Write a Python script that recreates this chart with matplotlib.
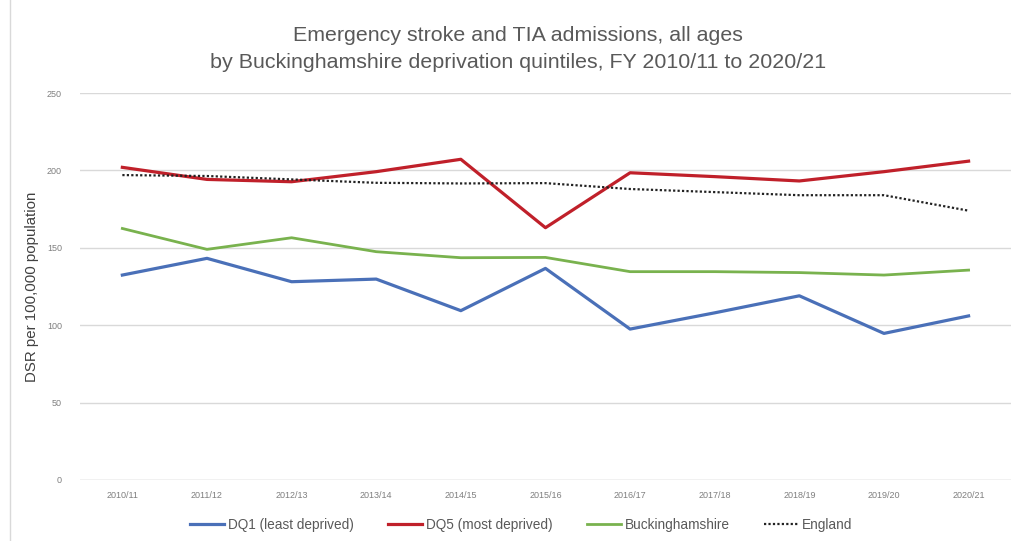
import matplotlib.pyplot as plt
from matplotlib.patches import Rectangle

years = ['2010/11', '2011/12', '2012/13', '2013/14', '2014/15', '2015/16',
         '2016/17', '2017/18', '2018/19', '2019/20', '2020/21']
dq1 = [132.4, 143.2, 128.1, 129.8, 109.4, 136.7, 97.5, 108.0, 119.0, 94.7, 106.0]
dq5 = [202.0, 194.2, 192.7, 199.2, 207.2, 163.0, 198.5, 196.0, 193.2, 199.2, 206.0]
bucks = [162.5, 149.0, 156.5, 147.5, 143.6, 143.8, 134.6, 134.6, 134.0, 132.4, 135.6]
england = [197.0, 196.4, 194.2, 192.0, 191.6, 191.8, 188.0, 186.0, 184.0, 184.0, 174.0]

plt.rcParams['font.family'] = ['Liberation Sans', 'DejaVu Sans']
grey = '#595959'

fig = plt.figure(figsize=(10.17, 5.41), dpi=100)
ax = fig.add_axes([0.0787, 0.1128, 0.9153, 0.7152])

x = range(len(years))
ax.plot(x, dq1, color='#4a70b8', lw=2.3, label='DQ1 (least deprived)')
ax.plot(x, dq5, color='#c0202a', lw=2.3, label='DQ5 (most deprived)')
ax.plot(x, bucks, color='#79b24e', lw=2.0, label='Buckinghamshire')
ax.plot(x, england, color='#222222', lw=1.6, ls=(0, (1, 1)), label='England')

ax.set_xlim(-0.5, len(years) - 0.5)
ax.set_ylim(0, 250)
ax.set_yticks(range(0, 251, 50))
ax.set_xticks(list(x))
ax.set_xticklabels(years)
ax.tick_params(axis='both', length=0, labelsize=6.5, colors='#7f7f7f')
ax.tick_params(axis='y', pad=13)
ax.tick_params(axis='x', pad=8)
ax.grid(axis='y', color='#d9d9d9', lw=1)
ax.set_axisbelow(True)
for s in ax.spines.values():
    s.set_visible(False)
ax.axhline(0, color='#d9d9d9', lw=1)

ax.set_ylabel('DSR per 100,000 population', fontsize=10.8, color='#404040', labelpad=6)

fig.text(0.509, 0.935, 'Emergency stroke and TIA admissions, all ages', ha='center',
         va='center', fontsize=15.4, color=grey)
fig.text(0.509, 0.885, 'by Buckinghamshire deprivation quintiles, FY 2010/11 to 2020/21',
         ha='center', va='center', fontsize=15.4, color=grey)

ax.legend(loc='center', bbox_to_anchor=(0.474, -0.117), ncol=4, frameon=False,
          fontsize=9.8, labelcolor=grey, handlelength=2.5, columnspacing=2.5,
          handletextpad=0.3)

fig.patches.append(Rectangle((0.01, -0.01), 1.0, 1.02, transform=fig.transFigure,
                             fill=False, edgecolor='#d9d9d9', lw=1))

fig.savefig('out.png', dpi=100)
